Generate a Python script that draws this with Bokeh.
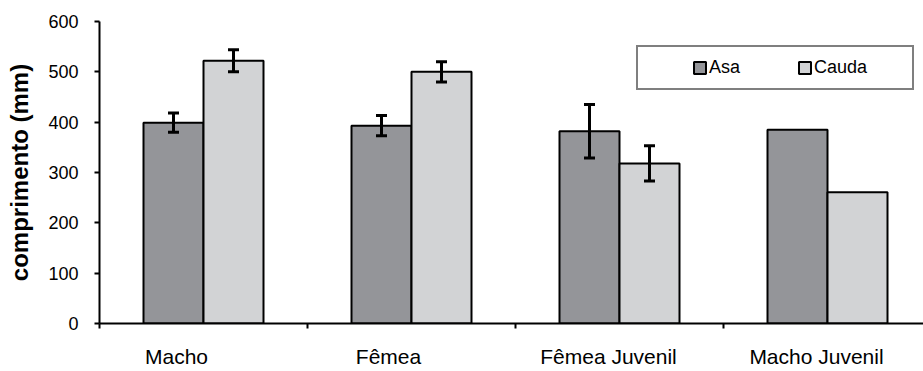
import numpy as np
from bokeh.plotting import figure
from bokeh.models import (ColumnDataSource, Range1d, FixedTicker, CustomJSTickFormatter,
                          Whisker, TeeHead, Legend, LegendItem)
from bokeh.embed import file_html
from bokeh.resources import INLINE

# ---------------- data ----------------
categories = ["Macho", "Fêmea", "Fêmea Juvenil", "Macho Juvenil"]
asa = [399, 393, 382, 385]
asa_err = [19, 20, 53, 0]
cauda = [522, 500, 318, 261]
cauda_err = [22, 20, 35, 0]
y_ticks = [0, 100, 200, 300, 400, 500, 600]

# ---------------- style ----------------
W, H = 923, 371
LEFT, TOP, BOTTOM = 99, 21, 48
CAT_PX = 208            # pixel width of one category slot
BAR_PX = 60             # pixel width of one bar
DARK = "#949599"
LIGHT = "#d2d3d5"
FONT = "Liberation Sans"
label_shift_px = [-27, -23, -11, -11]   # horizontal nudge of category labels

bar_w = BAR_PX / CAT_PX
x_end = (W - LEFT) / CAT_PX
n = len(categories)
idx = np.arange(n)

p = figure(width=W, height=H, x_range=Range1d(0, x_end), y_range=Range1d(0, 600),
           output_backend="svg", toolbar_location=None,
           min_border_left=LEFT, min_border_top=TOP, min_border_bottom=BOTTOM,
           min_border_right=0)
p.outline_line_color = None
p.xgrid.visible = False
p.ygrid.visible = False

asa_x = [float(i + 0.5 - bar_w / 2) for i in idx]
cauda_x = [float(i + 0.5 + bar_w / 2) for i in idx]

r_asa = p.vbar(x=asa_x, top=asa, width=bar_w, fill_color=DARK,
               line_color="black", line_width=2)
r_cau = p.vbar(x=cauda_x, top=cauda, width=bar_w, fill_color=LIGHT,
               line_color="black", line_width=2)

# error bars (only where an error exists)
wx, wu, wl = [], [], []
for xs, vals, errs in ((asa_x, asa, asa_err), (cauda_x, cauda, cauda_err)):
    for xv, v, e in zip(xs, vals, errs):
        if e > 0:
            wx.append(xv); wu.append(v + e); wl.append(v - e)
wsrc = ColumnDataSource(dict(x=wx, upper=wu, lower=wl))
whisk = Whisker(source=wsrc, base="x", upper="upper", lower="lower",
                line_width=3, line_color="black", level="overlay",
                upper_head=TeeHead(size=11, line_width=3, line_color="black"),
                lower_head=TeeHead(size=11, line_width=3, line_color="black"))
p.add_layout(whisk)

# x axis: ticks at slot boundaries (minor), labels at slot centres
xa = p.xaxis[0]
label_pos = [float(i + 0.5 + s / CAT_PX) for i, s in zip(idx, label_shift_px)]
xa.ticker = FixedTicker(ticks=label_pos, minor_ticks=[float(i) for i in range(n + 1)])
xa.formatter = CustomJSTickFormatter(args=dict(names=categories), code="return names[index]")
xa.major_tick_out = 0
xa.major_tick_in = 0
xa.minor_tick_out = 5
xa.minor_tick_in = 0
xa.minor_tick_line_width = 2
xa.minor_tick_line_color = "black"
xa.axis_line_width = 2
xa.axis_line_color = "black"
xa.major_label_standoff = 16
xa.major_label_text_font = FONT
xa.major_label_text_font_size = "21px"
xa.major_label_text_color = "black"

ya = p.yaxis[0]
ya.ticker = FixedTicker(ticks=y_ticks, minor_ticks=[])
ya.major_tick_out = 5
ya.major_tick_in = 0
ya.minor_tick_out = 0
ya.minor_tick_in = 0
ya.major_tick_line_width = 2
ya.major_tick_line_color = "black"
ya.axis_line_width = 2
ya.axis_line_color = "black"
ya.major_label_standoff = 16
ya.major_label_text_font = FONT
ya.major_label_text_font_size = "18px"
ya.major_label_text_color = "black"
ya.axis_label = "comprimento (mm)"
ya.axis_label_text_font = FONT
ya.axis_label_text_font_style = "bold"
ya.axis_label_text_font_size = "24px"
ya.axis_label_text_color = "black"
ya.axis_label_standoff = 12

legend = Legend(items=[LegendItem(label="Asa", renderers=[r_asa]),
                       LegendItem(label="Cauda", renderers=[r_cau])],
                orientation="horizontal", location=(537, 233), padding=10,
                spacing=0, glyph_width=15, glyph_height=15, label_standoff=2,
                label_width=88, label_text_font=FONT, label_text_font_size="18px",
                label_text_color="black",
                border_line_color="black", border_line_width=2,
                background_fill_color="white", background_fill_alpha=1,
                title="·", title_location="left", title_text_font_size="10px",
                title_text_alpha=0, title_standoff=33, margin=0)
p.add_layout(legend)

open("out.html", "w").write(file_html(p, INLINE))
